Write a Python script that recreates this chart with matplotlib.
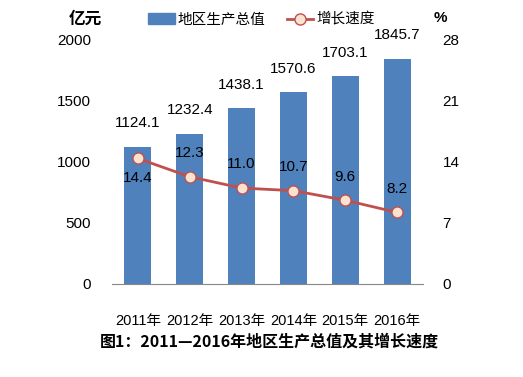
import matplotlib
matplotlib.use("Agg")
import matplotlib.pyplot as plt
from matplotlib.lines import Line2D
from matplotlib.patches import Patch

plt.rcParams['font.family'] = ['Liberation Sans', 'Noto Sans CJK SC', 'DejaVu Sans']

years = ["2011年", "2012年", "2013年", "2014年", "2015年", "2016年"]
gdp = [1124.1, 1232.4, 1438.1, 1570.6, 1703.1, 1845.7]
growth = [14.4, 12.3, 11.0, 10.7, 9.6, 8.2]

bar_color = "#4F81BD"
line_color = "#C0504D"

fig = plt.figure(figsize=(5.23, 3.77), dpi=100)
ax = fig.add_axes([0.214, 0.247, 0.595, 0.647])
ax2 = ax.twinx()

x = list(range(len(years)))
ax.bar(x, gdp, width=0.52, color=bar_color, zorder=2)
ax.set_xlim(-0.5, len(years) - 0.5)
ax.set_ylim(0, 2000)
ax.set_yticks([0, 500, 1000, 1500, 2000])
ax.set_xticks(x)
ax.set_xticklabels(years, fontsize=10.5)
ax.tick_params(axis='x', length=0, pad=22)
ax.tick_params(axis='y', length=0, labelsize=11, pad=15)
for s in ["top", "left", "right"]:
    ax.spines[s].set_visible(False)
ax.spines["bottom"].set_color("#888888")

for xi, v in zip(x, gdp):
    ax.annotate(f"{v:.1f}", (xi, v), xytext=(0, 12), textcoords="offset points",
                ha="center", va="bottom", fontsize=11)

ax2.plot(x, growth, color=line_color, lw=2, marker="o", ms=8,
         mfc="#F9E3D0", mec=line_color, mew=1, zorder=3)
ax2.set_ylim(0, 28)
ax2.set_yticks([0, 7, 14, 21, 28])
ax2.tick_params(axis='y', length=0, labelsize=11, pad=14)
for s in ax2.spines.values():
    s.set_visible(False)

for i, (xi, v) in enumerate(zip(x, growth)):
    dy = -14 if i == 0 else 12
    ax2.annotate(f"{v:.1f}", (xi, v), xytext=(0, dy), textcoords="offset points",
                 ha="center", va="center" if i == 0 else "bottom", fontsize=11)

fig.text(0.163, 0.95, "亿元", fontsize=12, fontweight="bold",
         family=['Noto Sans CJK SC'], ha="center", va="center")
fig.text(0.842, 0.952, "%", fontsize=11, fontweight="bold", ha="center", va="center")

handles = [Patch(color=bar_color), Line2D([], [], color=line_color, lw=2, marker="o",
                                          ms=8, mfc="#F9E3D0", mec=line_color)]
fig.legend(handles, ["地区生产总值", "增长速度"], loc="center", bbox_to_anchor=(0.5, 0.948),
           ncol=2, frameon=False, handlelength=1.8, handletextpad=0.2, columnspacing=1.5,
           prop={'family': ['Noto Sans CJK SC'], 'size': 10.5})

fig.text(0.515, 0.093, "图1：2011—2016年地区生产总值及其增长速度", fontsize=11.5,
         fontweight="bold", family=['Noto Sans CJK SC'], ha="center", va="center")

fig.savefig("out.png", dpi=100)
